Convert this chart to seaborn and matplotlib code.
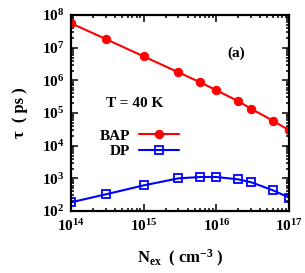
import matplotlib
matplotlib.use("Agg")
import matplotlib.pyplot as plt
from matplotlib.ticker import LogLocator, NullFormatter
import seaborn as sns
import pandas as pd

# densities (cm^-3) and spin relaxation times (ps)
n_ex = [1e14, 3e14, 1e15, 3e15, 6e15, 1e16, 2e16, 3e16, 6e16, 1e17]
tau_bap = [5.6e7, 1.84e7, 5.4e6, 1.76e6, 8.7e5, 4.95e5, 2.3e5, 1.35e5, 5.8e4, 2.95e4]
tau_dp = [185, 324, 611, 1000, 1100, 1100, 930, 760, 430, 258]

sns.set_style("ticks")
plt.rcParams["font.family"] = ["Liberation Serif", "DejaVu Serif"]
plt.rcParams["font.weight"] = "bold"
plt.rcParams["axes.labelweight"] = "bold"
plt.rcParams["mathtext.fontset"] = "custom"
plt.rcParams["mathtext.rm"] = "Liberation Serif:bold"
plt.rcParams["mathtext.it"] = "Liberation Serif:italic:bold"
plt.rcParams["mathtext.bf"] = "Liberation Serif:bold"
for k in ["text.color", "axes.labelcolor", "xtick.color", "ytick.color", "axes.edgecolor"]:
    plt.rcParams[k] = "black"

df_bap = pd.DataFrame({"n": n_ex, "tau": tau_bap})
df_dp = pd.DataFrame({"n": n_ex, "tau": tau_dp})

fig = plt.figure(figsize=(3.05, 2.73), dpi=100)
ax = fig.add_axes([0.233, 0.227, 0.715, 0.718])

sns.lineplot(data=df_bap, x="n", y="tau", ax=ax, color="#ff0000", lw=1.5,
             marker="o", markersize=6, markeredgecolor="#ff0000", label="BAP")
sns.lineplot(data=df_dp, x="n", y="tau", ax=ax, color="#0000ff", lw=1.5,
             marker="s", markersize=6, markerfacecolor="none",
             markeredgecolor="#0000ff", markeredgewidth=1.3, label="DP")

ax.set_xscale("log")
ax.set_yscale("log")
ax.set_xlim(1e14, 1e17)
ax.set_ylim(1e2, 1e8)
ax.set_yticks([1e2, 1e3, 1e4, 1e5, 1e6, 1e7, 1e8])
ax.set_xticks([1e14, 1e15, 1e16, 1e17])
for a in (ax.xaxis, ax.yaxis):
    a.set_minor_locator(LogLocator(base=10, subs=range(2, 10), numticks=20))
    a.set_minor_formatter(NullFormatter())

for s in ax.spines.values():
    s.set_linewidth(1.6)
    s.set_visible(True)
ax.tick_params(which="both", direction="in", top=True, right=True, labelsize=11,
               width=1.1, colors="black")
ax.tick_params(which="major", length=5, pad=5)
ax.tick_params(which="minor", length=2.5)

ax.set_xlabel(r"N$_{\mathregular{ex}}$  ( cm$^{\mathregular{-3}}$ )", fontsize=12, labelpad=10)
ax.set_ylabel("τ  ( ps )", fontsize=12, labelpad=10)

ax.text(0.294, 0.55, "T = 40 K", transform=ax.transAxes, fontsize=11,
        ha="center", va="center")
ax.text(0.757, 0.806, "(a)", transform=ax.transAxes, fontsize=11,
        ha="center", va="center")

ax.legend(loc="center right", bbox_to_anchor=(0.53, 0.345), frameon=False,
          markerfirst=False, fontsize=11, handlelength=2.6, labelspacing=0.1,
          handletextpad=0.6, borderpad=0)

fig.savefig("out.png", dpi=100)
